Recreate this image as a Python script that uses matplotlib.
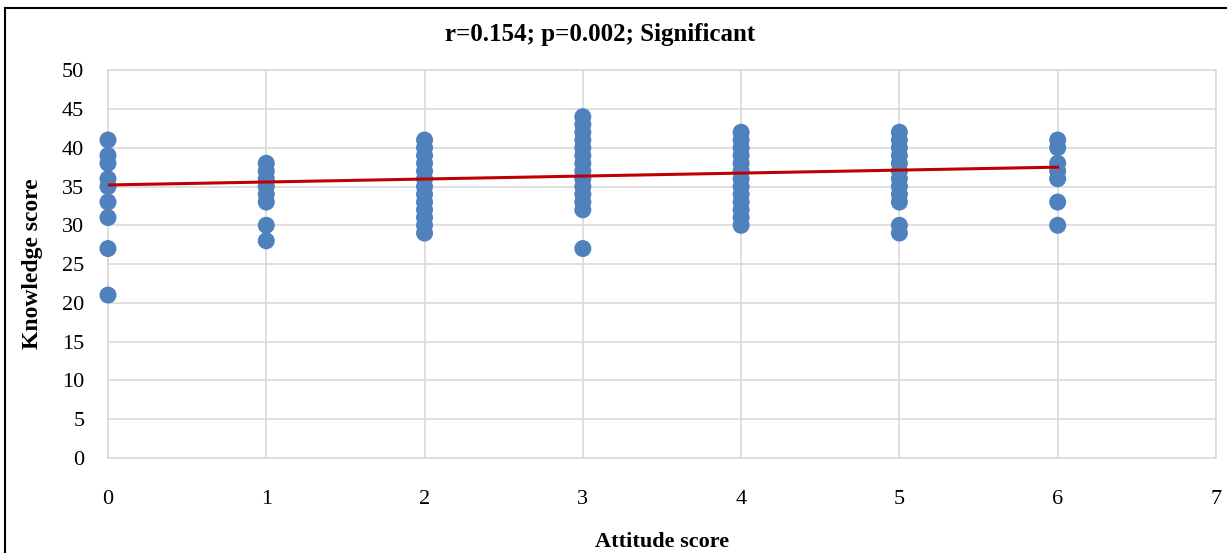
import numpy as np
import matplotlib
matplotlib.use("Agg")
import matplotlib.pyplot as plt

# knowledge scores observed at each attitude score
attitude = [0, 1, 2, 3, 4, 5, 6]
knowledge = [
    [41, 39, 38, 36, 35, 33, 31, 27, 21],
    [38, 37, 36, 35, 34, 33, 30, 28],
    [41, 40, 39, 38, 37, 36, 35, 34, 33, 32, 31, 30, 29],
    [44, 43, 42, 41, 40, 39, 38, 37, 36, 35, 34, 33, 32, 27],
    [42, 41, 40, 39, 38, 37, 36, 35, 34, 33, 32, 31, 30],
    [42, 41, 40, 39, 38, 37, 36, 35, 34, 33, 30, 29],
    [41, 40, 38, 37, 36, 33, 30],
]
trend_x = [0, 6]
trend_y = [35.2, 37.5]

plt.rcParams['font.family'] = ['Liberation Serif', 'DejaVu Serif']

fig = plt.figure(figsize=(12.27, 5.53), dpi=100)
ax = fig.add_axes([0.088, 0.172, 0.903, 0.701])

xs, ys = [], []
for a, ks in zip(attitude, knowledge):
    xs += [a] * len(ks)
    ys += ks
ax.scatter(xs, ys, s=150, color='#4F81BD', edgecolors='none', zorder=3, clip_on=False)
ax.plot(trend_x, trend_y, color='#C00000', lw=2.2, zorder=4)

ax.set_xlim(0, 7)
ax.set_ylim(0, 50)
ax.set_xticks(np.arange(0, 8, 1))
ax.set_yticks(np.arange(0, 55, 5))
ax.grid(True, color='#D9D9D9', lw=1.2)
ax.set_axisbelow(True)
for s in ax.spines.values():
    s.set_color('#D9D9D9')
    s.set_linewidth(1.2)
ax.tick_params(length=0, labelsize=16)
ax.tick_params(axis='x', pad=23)
ax.tick_params(axis='y', pad=17)

fig.text(0.489, 0.937, 'r=0.154; p=0.002; Significant', fontsize=18,
         fontweight='bold', ha='center', va='center')
ax.set_xlabel('Attitude score', fontsize=16, fontweight='bold', labelpad=17)
ax.set_ylabel('Knowledge score', fontsize=17, fontweight='bold', labelpad=14)

# chart frame (left and top edges visible)
fig.add_artist(plt.Line2D([0.004, 0.004], [0, 0.985], color='black', lw=1.5))
fig.add_artist(plt.Line2D([0.004, 1.0], [0.985, 0.985], color='black', lw=1.5))

fig.savefig('out.png', dpi=100)
